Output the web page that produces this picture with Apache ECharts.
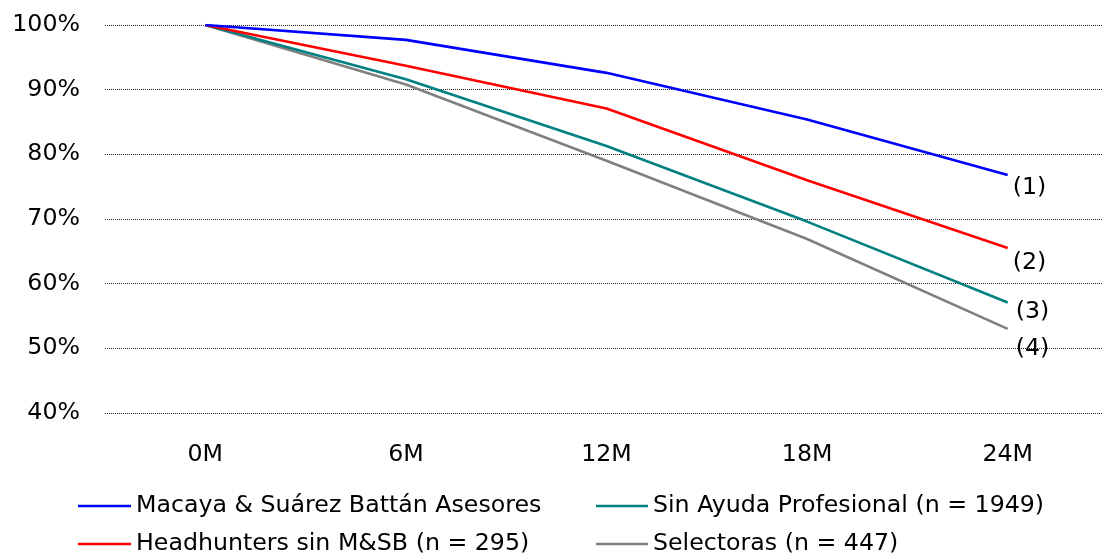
<!DOCTYPE html>
<html>
<head>
<meta charset="utf-8">
<script src="https://cdn.jsdelivr.net/npm/echarts@6/dist/echarts.min.js"></script>
<style>
html,body{margin:0;padding:0;background:#fff;}
#chart{width:1103px;height:556px;}
</style>
</head>
<body>
<div id="chart"></div>
<script>
var categories = ['0M', '6M', '12M', '18M', '24M'];
var yTicks = [40, 50, 60, 70, 80, 90, 100];
var seriesNames = [
  'Macaya & Suárez Battán Asesores',
  'Headhunters sin M&SB (n = 295)',
  'Sin Ayuda Profesional (n = 1949)',
  'Selectoras (n = 447)'
];
var endTags = ['(1)', '(2)', '(3)', '(4)'];
var macaya = [100, 97.7, 92.6, 85.4, 76.8];
var headhunters = [100, 93.7, 87.1, 76.0, 65.5];
var sinAyuda = [100, 91.6, 81.3, 69.6, 57.1];
var selectoras = [100, 90.8, 79.0, 66.9, 53.0];

var FONT = '"DejaVu Sans", sans-serif';
var FS = 23.7;
var colors = ['#0000FF', '#FF0000', '#008080', '#808080'];
var values = [macaya, headhunters, sinAyuda, selectoras];
var labelOffsets = [[0, 13], [0, 15], [3, 9], [3, 20]];

var chart = echarts.init(document.getElementById('chart'));
var series = values.map(function (v, i) {
  return {
    name: seriesNames[i],
    type: 'line',
    data: v,
    symbol: 'none',
    showSymbol: false,
    smooth: false,
    color: colors[i],
    lineStyle: {color: colors[i], width: 2.6},
    endLabel: {
      show: true,
      formatter: endTags[i],
      color: '#000',
      fontFamily: FONT,
      fontSize: FS,
      distance: 5,
      offset: labelOffsets[i]
    },
    z: 10 - i
  };
});

chart.setOption({
  animation: false,
  backgroundColor: '#fff',
  textStyle: {fontFamily: FONT},
  grid: {left: 105, right: -5, top: 25, bottom: 143, outerBoundsMode: 'none', containLabel: false},
  xAxis: {
    type: 'category',
    data: categories,
    boundaryGap: true,
    axisLine: {show: false},
    axisTick: {show: false},
    axisLabel: {color: '#000', fontFamily: FONT, fontSize: FS, margin: 30}
  },
  yAxis: {
    type: 'value',
    min: yTicks[0],
    max: yTicks[yTicks.length - 1],
    interval: 10,
    axisLine: {show: false},
    axisTick: {show: false},
    axisLabel: {color: '#000', fontFamily: FONT, fontSize: FS, margin: 25,
      formatter: function (v) { return v + '%'; }},
    splitLine: {show: true, lineStyle: {color: '#222', width: 1, type: [1, 1]}}
  },
  legend: [
    {
      data: [seriesNames[0], seriesNames[1]],
      orient: 'vertical',
      left: 78, top: 494,
      itemWidth: 53, itemHeight: 2.5, icon: 'rect',
      itemGap: 14,
      padding: 0,
      textStyle: {color: '#000', fontFamily: FONT, fontSize: FS, lineHeight: 24}
    },
    {
      data: [seriesNames[2], seriesNames[3]],
      orient: 'vertical',
      left: 596, top: 494,
      itemWidth: 52, itemHeight: 2.5, icon: 'rect',
      itemGap: 14,
      padding: 0,
      textStyle: {color: '#000', fontFamily: FONT, fontSize: FS, lineHeight: 24}
    }
  ],
  series: series
});
</script>
</body>
</html>
